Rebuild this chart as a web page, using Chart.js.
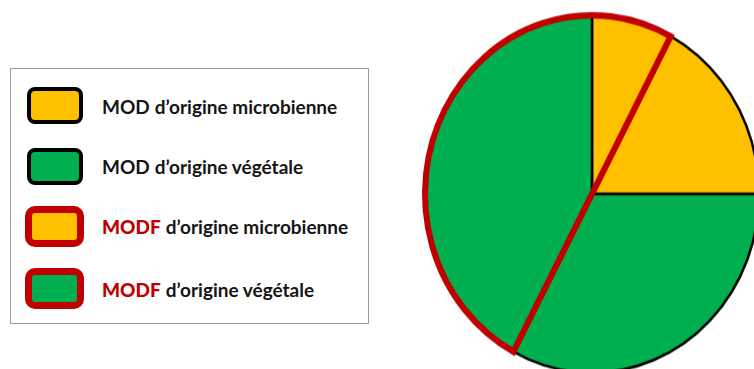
<!DOCTYPE html>
<html>
<head>
<meta charset="utf-8">
<script src="https://cdn.jsdelivr.net/npm/chart.js@4.4.1/dist/chart.umd.min.js"></script>
<style>
  html, body { margin: 0; padding: 0; background: #fff; }
  body { width: 754px; height: 369px; overflow: hidden; position: relative;
         font-family: Lato, "Open Sans", sans-serif; }
  .pie { position: absolute; left: 412px; top: 14px; width: 360px; height: 360px;
         transform: scaleY(1.07); transform-origin: 50% 50%; }
  .pie canvas { position: absolute; left: 0; top: 0; }
  .legend { position: absolute; left: 10px; top: 68px; width: 359px; height: 256px;
            box-sizing: border-box; border: 1px solid #9c9c9c; background: #fff; }
  .sw { position: absolute; box-sizing: border-box; border-style: solid; }
  .lbl { position: absolute; left: 91px; height: 30px; display: flex; align-items: center;
         font-weight: 700; font-size: 19px; color: #151515; white-space: nowrap; }
  .lbl b { color: #c00000; margin-right: 5px; }
</style>
</head>
<body>
<div class="legend" id="legend"></div>
<div class="pie">
  <canvas id="mod" width="360" height="360"></canvas>
  <canvas id="modf" width="360" height="360"></canvas>
</div>
<script>
// MOD: whole pool split by origin (percent of total)
const modLabels = ["MOD d’origine microbienne", "MOD d’origine végétale"];
const modValues = [25, 75];

// MODF: fraction of the pool, split by origin (percent of total)
const modfLabels = ["MODF d’origine microbienne", "MODF d’origine végétale"];
const modfValues = [7.8, 42.2];

// Legend rows: coloured prefix + plain suffix
const legendPrefix = ["MOD", "MOD", "MODF", "MODF"];
const legendSuffix = ["d’origine microbienne", "d’origine végétale", "d’origine microbienne", "d’origine végétale"];

const YELLOW = "#ffc000";
const GREEN = "#00b050";
const RED = "#c00000";
const BLACK = "#000000";

Chart.defaults.animation = false;

const common = {
  responsive: false,
  radius: 167,
  layout: { padding: 0 },
  events: [],
  plugins: { legend: { display: false }, tooltip: { enabled: false } }
};

// Base pie: microbial / plant MOD with black outlines
new Chart(document.getElementById("mod"), {
  type: "pie",
  data: {
    labels: modLabels,
    datasets: [{
      data: modValues,
      backgroundColor: [YELLOW, GREEN],
      borderColor: BLACK,
      borderWidth: 2.5,
      borderJoinStyle: "miter"
    }]
  },
  options: Object.assign({ rotation: 0 }, common)
});

// Overlay: MODF region outlined in red, spanning the plant part before 12 o'clock
// and the microbial part after it
const modfTotal = modfValues[0] + modfValues[1];
new Chart(document.getElementById("modf"), {
  type: "pie",
  data: {
    labels: ["MODF", ""],
    datasets: [{
      data: [modfTotal, 100 - modfTotal],
      backgroundColor: ["rgba(0,0,0,0)", "rgba(0,0,0,0)"],
      borderColor: [RED, "rgba(0,0,0,0)"],
      borderWidth: [6, 0],
      borderJoinStyle: "miter"
    }]
  },
  options: Object.assign({ rotation: -(modfValues[1] / 100) * 360 }, common)
});

// Legend box
const rows = [
  { fill: YELLOW, border: BLACK, bw: 4, x: 16, y: 18, w: 56, h: 37 },
  { fill: GREEN,  border: BLACK, bw: 4, x: 16, y: 79, w: 56, h: 37 },
  { fill: YELLOW, border: RED,   bw: 7, x: 14, y: 137, w: 59, h: 41 },
  { fill: GREEN,  border: RED,   bw: 7, x: 14, y: 199, w: 59, h: 41 }
];
const textCenters = [37, 97, 157, 220];
const legend = document.getElementById("legend");
rows.forEach((r, i) => {
  const sw = document.createElement("div");
  sw.className = "sw";
  Object.assign(sw.style, {
    left: r.x + "px", top: r.y + "px", width: r.w + "px", height: r.h + "px",
    background: r.fill, borderColor: r.border, borderWidth: r.bw + "px",
    borderRadius: (r.bw > 5 ? 10 : 8) + "px"
  });
  legend.appendChild(sw);
  const lbl = document.createElement("div");
  lbl.className = "lbl";
  lbl.style.top = (textCenters[i] - 15) + "px";
  const pre = i < 2 ? document.createElement("span") : document.createElement("b");
  pre.textContent = legendPrefix[i];
  if (i < 2) pre.style.marginRight = "5px";
  lbl.appendChild(pre);
  lbl.appendChild(document.createTextNode(legendSuffix[i]));
  legend.appendChild(lbl);
});
</script>
</body>
</html>
